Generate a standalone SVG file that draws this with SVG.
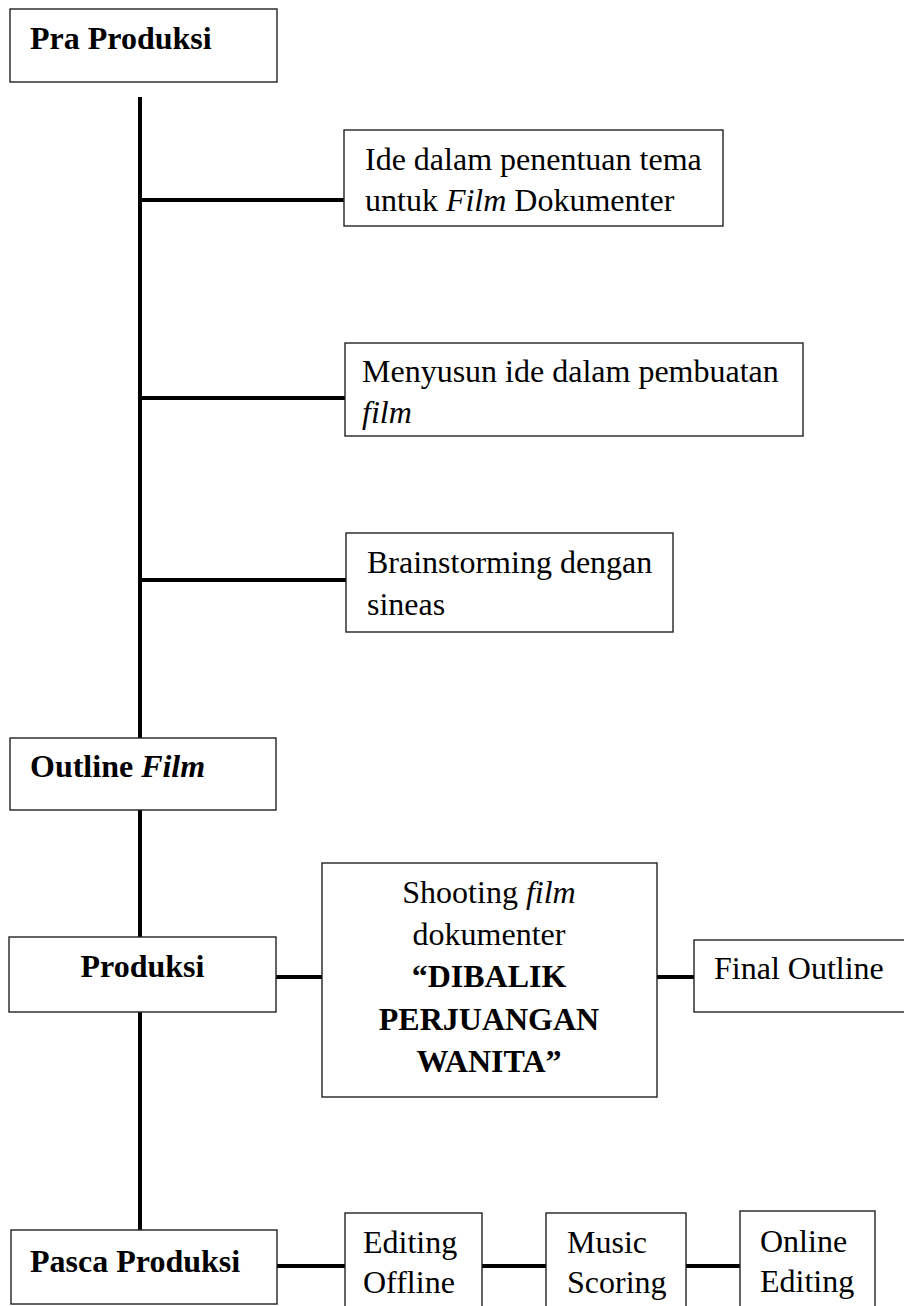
<svg xmlns="http://www.w3.org/2000/svg" width="904" height="1306" viewBox="0 0 904 1306">
<style>
.box{fill:#fff;stroke:#222;stroke-width:1.4}
.ln{stroke:#000;stroke-width:4;fill:none}
text{font-family:"Liberation Serif","Times New Roman",serif;font-size:32px;fill:#000}
.b{font-weight:bold}
.i{font-style:italic}
.m{text-anchor:middle}
</style>
<rect width="904" height="1306" fill="#fff"/>
<g id="connectors">
<line class="ln" x1="140" y1="97" x2="140" y2="738"/>
<line class="ln" x1="140" y1="810" x2="140" y2="937"/>
<line class="ln" x1="140" y1="1012" x2="140" y2="1230"/>
<line class="ln" x1="140" y1="200" x2="344" y2="200"/>
<line class="ln" x1="140" y1="398" x2="345" y2="398"/>
<line class="ln" x1="140" y1="580" x2="346" y2="580"/>
<line class="ln" x1="276" y1="977" x2="322" y2="977"/>
<line class="ln" x1="657" y1="977" x2="694" y2="977"/>
<line class="ln" x1="277" y1="1266" x2="345" y2="1266"/>
<line class="ln" x1="482" y1="1266" x2="546" y2="1266"/>
<line class="ln" x1="686" y1="1266" x2="740" y2="1266"/>
</g>
<g id="pra-produksi">
<rect class="box" x="10" y="9" width="267" height="73"/>
<text class="b" x="30" y="49">Pra Produksi</text>
</g>
<g id="ide">
<rect class="box" x="344" y="130" width="379" height="96"/>
<text x="365" y="170">Ide dalam penentuan tema</text>
<text x="365" y="211">untuk <tspan class="i">Film</tspan> Dokumenter</text>
</g>
<g id="menyusun">
<rect class="box" x="345" y="343" width="458" height="93"/>
<text x="362" y="382">Menyusun ide dalam pembuatan</text>
<text class="i" x="362" y="423">film</text>
</g>
<g id="brainstorming">
<rect class="box" x="346" y="533" width="327" height="99"/>
<text x="367" y="573">Brainstorming dengan</text>
<text x="367" y="615">sineas</text>
</g>
<g id="outline-film">
<rect class="box" x="10" y="738" width="266" height="72"/>
<text class="b" x="30" y="777">Outline <tspan class="i">Film</tspan></text>
</g>
<g id="produksi">
<rect class="box" x="9" y="937" width="267" height="75"/>
<text class="b m" x="142.5" y="977">Produksi</text>
</g>
<g id="shooting">
<rect class="box" x="322" y="863" width="335" height="234"/>
<text class="m" x="489" y="903">Shooting <tspan class="i">film</tspan></text>
<text class="m" x="489" y="945">dokumenter</text>
<text class="m b" x="489" y="987">“DIBALIK</text>
<text class="m b" x="489" y="1030">PERJUANGAN</text>
<text class="m b" x="489" y="1072">WANITA”</text>
</g>
<g id="final-outline">
<rect class="box" x="694" y="940" width="220" height="72"/>
<text x="714" y="979">Final Outline</text>
</g>
<g id="pasca-produksi">
<rect class="box" x="11" y="1230" width="266" height="74"/>
<text class="b" x="30" y="1272">Pasca Produksi</text>
</g>
<g id="editing-offline">
<rect class="box" x="345" y="1213" width="137" height="110"/>
<text x="363" y="1253">Editing</text>
<text x="363" y="1293">Offline</text>
</g>
<g id="music-scoring">
<rect class="box" x="546" y="1213" width="140" height="110"/>
<text x="567" y="1253">Music</text>
<text x="567" y="1293">Scoring</text>
</g>
<g id="online-editing">
<rect class="box" x="740" y="1211" width="135" height="110"/>
<text x="760" y="1252">Online</text>
<text x="760" y="1292">Editing</text>
</g>
</svg>
